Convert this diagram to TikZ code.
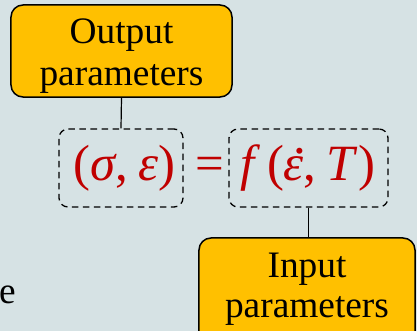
\documentclass[tikz,border=0pt]{standalone}
\usepackage{fontspec}
\setmainfont{Liberation Serif}
\definecolor{bgc}{RGB}{214,226,228}
\definecolor{boxc}{RGB}{255,192,0}
\definecolor{eqc}{RGB}{192,0,0}
\newcommand{\dotveps}{\makebox[0pt][l]{\hspace{0.19em}\raisebox{0.52em}{\textup{.}}}\textit{ε}}
\tikzset{
  solidbox/.style={draw=black, line width=1.5bp, fill=boxc, rounded corners=12bp, inner sep=0pt},
  dashbox/.style={draw=black, line width=1.3bp, dash pattern=on 6.5bp off 4.5bp, rounded corners=9bp, inner sep=0pt},
  lbl/.style={font=\fontsize{37.5}{42}\selectfont, text=black, inner sep=0pt},
  eq/.style={font=\fontsize{51}{54}\selectfont, text=eqc, inner sep=0pt, anchor=base},
  conn/.style={draw=black, line width=1.2bp}
}
\begin{document}
\begin{tikzpicture}[x=1bp,y=1bp]
\clip (0,0) rectangle (417,331);
\fill[bgc] (0,0) rectangle (417,331);
% output box
\node[solidbox, minimum width=221bp, minimum height=92bp] (outbox) at (121.5,280) {};
\node[lbl, anchor=base] (outa) at (121.5,288) {Output};
\node[lbl, anchor=base] (outb) at (121.5,246) {parameters};
% input box
\node[solidbox, minimum width=216bp, minimum height=140bp] (inbox) at (307,23) {};
\node[lbl, anchor=base] (ina) at (307,54) {Input};
\node[lbl, anchor=base] (inb) at (307,14) {parameters};
% dashed boxes
\node[dashbox, minimum width=124bp, minimum height=78bp] (lhs) at (121,163) {};
\node[dashbox, minimum width=159bp, minimum height=78bp] (rhs) at (308.5,163) {};
% equation
\node[eq] (eql) at (124.5,151) {(\textit{σ},\kern0.2em\textit{ε})};
\node[eq] (eqm) at (209.5,151) {=};
\node[eq] (eqr) at (308,151) {\textit{f}\kern0.12em(\dotveps,\kern0.2em\textit{T})};
% connectors
\draw[conn] (outbox.south) -- (lhs.north);
\draw[conn] (rhs.south) -- (inbox.north -| rhs.south);
% cropped text
\node[lbl, anchor=base west] (frag) at (-1,28) {e};
\end{tikzpicture}
\end{document}
